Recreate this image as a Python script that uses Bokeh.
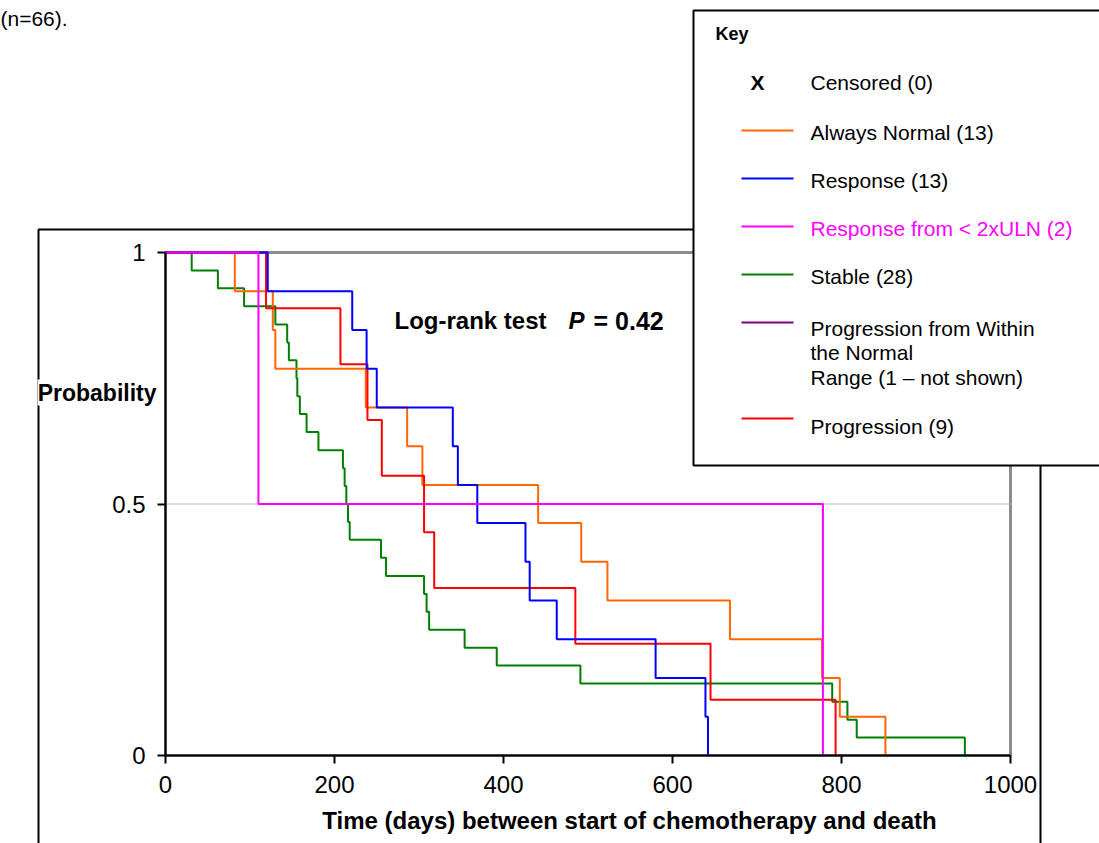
from bokeh.plotting import figure
from bokeh.models import Range1d, FixedTicker, Label, BoxAnnotation, Arrow
from bokeh.embed import file_html
from bokeh.resources import INLINE

# ---- data ----
always_t = [82, 127, 130, 237, 286, 304, 441, 492, 523, 668, 777, 798, 852]
always_s = [0.923, 0.846, 0.769, 0.692, 0.615, 0.538, 0.462, 0.385, 0.308, 0.231, 0.154, 0.077, 0.0]
resp_t = [121, 221, 238, 250, 340, 346, 369, 426, 431, 463, 580, 639, 642]
resp_s = [0.923, 0.846, 0.769, 0.692, 0.615, 0.538, 0.462, 0.385, 0.308, 0.231, 0.154, 0.077, 0.0]
resp2_t = [110, 778]
resp2_s = [0.5, 0.0]
stable_t = [31, 62, 93, 130, 144, 146, 155, 156, 159, 167, 181, 210, 212, 214, 216, 218,
            255, 261, 306, 309, 312, 354, 392, 491, 789, 807, 818, 946]
stable_s = [0.964, 0.929, 0.893, 0.857, 0.821, 0.786, 0.750, 0.714, 0.679, 0.643, 0.607,
            0.571, 0.536, 0.500, 0.464, 0.429, 0.393, 0.357, 0.321, 0.286, 0.250, 0.214,
            0.179, 0.143, 0.107, 0.071, 0.036, 0.0]
prog_t = [119, 207, 239, 256, 306, 318, 485, 645, 793]
prog_s = [0.889, 0.778, 0.667, 0.556, 0.444, 0.333, 0.222, 0.111, 0.0]

x_ticks = [0, 200, 400, 600, 800, 1000]
y_ticks = [0, 0.5, 1]

legend_items = [
    ("Always Normal (13)", "#FF6600", "black"),
    ("Response (13)", "#0000FF", "black"),
    ("Response from < 2xULN (2)", "#FF00FF", "#FF00FF"),
    ("Stable (28)", "#008000", "black"),
]

FONT = "Liberation Sans"
W, H = 1099, 843
# where the data area sits on the page (pixels)
FL, FR, FT, FB = 165, 1010, 252, 755


def dx(sx):
    return (sx - FL) * 1000.0 / (FR - FL)


def dy(sy):
    return (FB - sy) / float(FB - FT)


p = figure(width=W, height=H, output_backend="svg", toolbar_location=None,
           x_range=Range1d(dx(0), dx(W)), y_range=Range1d(dy(H), dy(0)), min_border=0)
p.min_border_left = 0
p.min_border_right = 0
p.min_border_top = 0
p.min_border_bottom = 0
p.outline_line_color = None
p.background_fill_color = "white"
p.border_fill_color = "white"
p.grid.visible = False

# outer frame of the chart
p.add_layout(BoxAnnotation(left=dx(38), right=dx(1040), top=dy(229), bottom=dy(1000),
                           fill_alpha=0, line_color="black", line_alpha=1, line_width=2,
                           level="underlay"))
# plot area border (grey) and 0.5 gridline
p.add_layout(BoxAnnotation(left=0, right=1000, top=1, bottom=0, fill_alpha=0,
                           line_color="#8C8C8C", line_alpha=1, line_width=3, level="underlay"))
p.add_layout(Arrow(end=None, x_start=0, x_end=1000, y_start=0.5, y_end=0.5,
                   line_color="#B8B8B8", line_width=1, level="underlay"))

# curves
def km(t, s, color):
    p.step(x=[0] + t, y=[1.0] + s, mode="after", line_color=color, line_width=2)

km(stable_t, stable_s, "#008000")
km(always_t, always_s, "#FF6600")
km(prog_t, prog_s, "#FF0000")
km(resp_t, resp_s, "#0000FF")
km(resp2_t, resp2_s, "#FF00FF")

# axes drawn at data zero
p.xaxis.fixed_location = 0
p.yaxis.fixed_location = 0
p.xaxis.bounds = (0, 1000)
p.yaxis.bounds = (0, 1)
for ax in (p.xaxis[0], p.yaxis[0]):
    ax.axis_line_color = "black"
    ax.axis_line_width = 2
    ax.major_tick_line_color = "black"
    ax.major_tick_line_width = 2
    ax.major_tick_out = 8
    ax.major_tick_in = 0
    ax.minor_tick_line_color = None
    ax.major_label_text_font = FONT
    ax.major_label_text_font_size = "24px"
    ax.major_label_text_color = "black"
p.xaxis.ticker = FixedTicker(ticks=x_ticks)
p.yaxis.ticker = FixedTicker(ticks=y_ticks)
p.yaxis.major_label_overrides = {0: "0", 0.5: "0.5", 1: "1"}
p.xaxis.major_label_standoff = 12
p.yaxis.major_label_standoff = 12

# axis titles
p.add_layout(Label(x=dx(156), y=dy(392), text="Probability", text_font=FONT, text_font_size="23px",
                   text_font_style="bold", text_color="black", text_align="right", text_baseline="middle",
                   background_fill_color="white", background_fill_alpha=1))
p.add_layout(Label(x=dx(629), y=dy(820), text="Time (days) between start of chemotherapy and death",
                   text_font=FONT, text_font_size="24px", text_font_style="bold", text_color="black",
                   text_align="center", text_baseline="middle"))

# Log-rank annotation
p.add_layout(Label(x=dx(394), y=dy(320), text="Log-rank test", text_font=FONT, text_font_size="24px",
                   text_font_style="bold", text_color="black", text_align="left", text_baseline="middle"))
p.add_layout(Label(x=dx(568), y=dy(320), text="P", text_font=FONT, text_font_size="24px",
                   text_font_style="bold italic", text_color="black", text_align="left", text_baseline="middle"))
p.add_layout(Label(x=dx(593), y=dy(320), text="= 0.42", text_font=FONT, text_font_size="25px",
                   text_font_style="bold", text_color="black", text_align="left", text_baseline="middle"))

# caption fragment
p.add_layout(Label(x=dx(0), y=dy(18), text="(n=66).", text_font=FONT, text_font_size="21px",
                   text_color="black", text_align="left", text_baseline="middle"))

# key box
p.add_layout(BoxAnnotation(left=dx(693), right=dx(1110), top=dy(10), bottom=dy(465),
                           fill_color="white", fill_alpha=1, line_color="black", line_alpha=1,
                           line_width=2))
p.add_layout(Label(x=dx(715), y=dy(33), text="Key", text_font=FONT, text_font_size="18px",
                   text_font_style="bold", text_color="black", text_align="left", text_baseline="middle"))
p.add_layout(Label(x=dx(757), y=dy(82), text="X", text_font=FONT, text_font_size="21px",
                   text_font_style="bold", text_color="black", text_align="center", text_baseline="middle"))
p.add_layout(Label(x=dx(810), y=dy(82), text="Censored (0)", text_font=FONT, text_font_size="21px",
                   text_color="black", text_align="left", text_baseline="middle"))

rows = [130, 178, 226, 274]
for (txt, lc, tc), ry in zip(legend_items, rows):
    p.add_layout(Arrow(end=None, x_start=dx(741), x_end=dx(793), y_start=dy(ry), y_end=dy(ry),
                       line_color=lc, line_width=2))
    p.add_layout(Label(x=dx(810), y=dy(ry + 2), text=txt, text_font=FONT, text_font_size="21px",
                       text_color=tc, text_align="left", text_baseline="middle"))

p.add_layout(Arrow(end=None, x_start=dx(741), x_end=dx(793), y_start=dy(322), y_end=dy(322),
                   line_color="#800080", line_width=2))
for txt, ry in [("Progression from Within", 328), ("the Normal", 352), ("Range (1 \u2013 not shown)", 377)]:
    p.add_layout(Label(x=dx(810), y=dy(ry), text=txt, text_font=FONT, text_font_size="21px",
                       text_color="black", text_align="left", text_baseline="middle"))

p.add_layout(Arrow(end=None, x_start=dx(741), x_end=dx(793), y_start=dy(418), y_end=dy(418),
                   line_color="#FF0000", line_width=2))
p.add_layout(Label(x=dx(810), y=dy(426), text="Progression (9)", text_font=FONT, text_font_size="21px",
                   text_color="black", text_align="left", text_baseline="middle"))

open("out.html", "w").write(file_html(p, INLINE))
